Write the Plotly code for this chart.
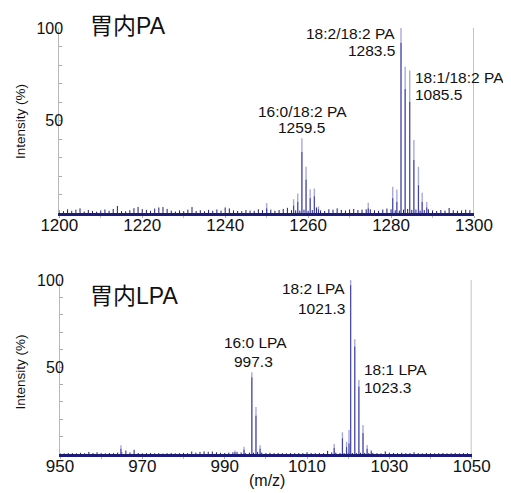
import plotly.graph_objects as go

# ---------------- data: upper panel (胃内PA) ----------------
pa_noise_start = 1200
pa_noise = [
    1.5, 1.0, 2.0, 1.2, 1.8, 2.5, 0.8, 1.6, 1.1, 0.7,
    1.4, 1.9, 1.2, 2.2, 3.8, 1.0, 0.9, 1.5, 2.6, 3.3,
    2.1, 1.7, 1.2, 2.4, 3.0, 3.2, 2.2, 1.3, 0.8, 1.4,
    1.0, 1.8, 3.2, 1.1, 1.5, 0.9, 1.7, 1.2, 1.9, 1.3,
    3.0, 2.5, 1.4, 1.1, 1.0, 1.6, 1.3, 1.2, 2.0, 1.5,
    2.0, 1.8, 1.2, 1.6, 2.2, 2.8, 1.5, 1.4, 1.3, 1.8,
    1.2, 1.6, 3.0, 1.4, 1.1, 2.0, 1.8, 2.5, 1.7, 1.3,
    1.9, 2.2, 1.6, 1.8, 2.0, 2.0, 1.4, 1.2, 1.9, 2.4,
    2.0, 1.5, 1.3, 1.8, 2.2, 1.7, 1.9, 1.3, 1.6, 2.0,
    1.4, 1.1, 1.6, 1.3, 2.7, 1.5, 1.2, 1.4, 1.8, 1.6,
    1.5,
]
pa_peak_mz = [1250.0, 1256.5, 1257.5, 1258.5, 1259.5, 1260.5, 1261.5, 1262.5,
              1274.5, 1280.4, 1281.4, 1282.4, 1283.4, 1284.5, 1285.5, 1286.6,
              1287.5, 1288.6]
pa_peak_light = [5.4, 7.5, 10.6, 40.4, 25.0, 12.8, 13.3, 3.5,
                 5.6, 14.2, 12.7, 100.0, 79.0, 77.0, 39.5, 25.0,
                 11.0, 6.0]
pa_peak_dark = [2.5, 4.0, 6.0, 33.0, 18.0, 8.0, 9.0, 2.0,
                2.5, 8.0, 6.0, 92.0, 67.0, 60.0, 28.6, 15.0,
                6.0, 3.0]
pa_xticks = [1200, 1220, 1240, 1260, 1280, 1300]

# ---------------- data: lower panel (胃内LPA) ----------------
lpa_noise_start = 950
lpa_noise = [
    0.5, 0.4, 0.6, 0.5, 0.4, 0.7, 0.5, 1.2, 0.6, 1.0,
    0.5, 0.4, 0.6, 0.5, 0.8, 1.0, 2.0, 0.9, 2.4, 0.6,
    0.4, 0.5, 0.6, 0.4, 0.5, 0.3, 0.5, 0.6, 0.4, 0.5,
    0.6, 0.5, 1.4, 0.8, 1.2, 1.5, 1.3, 1.4, 1.0, 0.7,
    0.6, 0.8, 1.0, 1.2, 0.9, 0.6, 0.8, 0.7, 1.2, 0.8,
    0.6, 0.7, 0.5, 0.6, 0.5, 0.4, 0.6, 0.5, 0.6, 0.5,
    1.0, 0.6, 0.5, 0.6, 0.5, 1.8, 0.9, 0.8, 0.6, 0.5,
    0.7, 0.6, 0.5, 0.7, 0.6, 0.5, 0.6, 0.5, 0.4, 1.5,
    0.8, 0.6, 0.5, 0.7, 0.5, 0.6, 1.0, 0.5, 0.4, 0.6,
    0.5, 0.4, 0.5, 0.6, 0.4, 0.5, 0.6, 0.4, 0.5, 0.5,
    0.4,
]
lpa_peak_mz = [964.8, 992.5, 994.7, 996.6, 997.6, 998.6, 1016.6, 1018.6,
               1019.6, 1020.2, 1020.6, 1021.6, 1022.6, 1023.6, 1024.6, 1025.6]
lpa_peak_light = [5.0, 2.0, 4.2, 47.0, 27.0, 5.0, 5.7, 12.5,
                  7.0, 13.8, 100.0, 66.0, 42.5, 16.7, 5.2, 2.3]
lpa_peak_dark = [3.0, 1.0, 2.5, 44.0, 22.0, 3.0, 3.5, 9.0,
                 4.0, 6.0, 97.0, 61.7, 38.7, 12.0, 3.0, 1.5]
lpa_xticks = [950, 970, 990, 1010, 1030, 1050]

y_tickvals = [10, 20, 30, 40, 50, 60, 70, 80, 90, 100]
y_ticktext = ["", "", "", "", "50", "", "", "", "", "100"]

LIGHT = "rgba(140,140,215,0.75)"
DARK = "#3c3ca4"
NAVY = "#1c1c78"
LAT = "Liberation Sans, Arial, Noto Sans CJK JP, sans-serif"
JP = "Liberation Sans, Noto Sans CJK JP, sans-serif"


def sticks(mz, h):
    xs, ys = [], []
    for m, v in zip(mz, h):
        xs += [m, m, None]
        ys += [0, v, None]
    return xs, ys


fig = go.Figure()

for noise, start, peaks, light, dark, xa, ya in [
    (pa_noise, pa_noise_start, pa_peak_mz, pa_peak_light, pa_peak_dark, "x", "y"),
    (lpa_noise, lpa_noise_start, lpa_peak_mz, lpa_peak_light, lpa_peak_dark, "x2", "y2"),
]:
    nmz = [start + i for i in range(len(noise))]
    nx, ny = sticks(nmz, noise)
    fig.add_trace(go.Scatter(x=nx, y=ny, mode="lines", line=dict(color=NAVY, width=1),
                             xaxis=xa, yaxis=ya, hoverinfo="skip"))
    lx, ly = sticks(peaks, light)
    fig.add_trace(go.Scatter(x=lx, y=ly, mode="lines", line=dict(color=LIGHT, width=1.4),
                             xaxis=xa, yaxis=ya))
    dx, dy = sticks(peaks, dark)
    fig.add_trace(go.Scatter(x=dx, y=dy, mode="lines", line=dict(color=DARK, width=1),
                             xaxis=xa, yaxis=ya))

# the page body adds an 8px margin, so the figure is drawn 8px in from the corner
OFF = 8
W, H = 511 - OFF, 493 - OFF


def px(x):
    return (x - OFF) / W


def py(y):
    return 1 - (y - OFF) / H


def xaxis(domain, rng, ticks, anchor):
    return dict(domain=domain, range=rng, anchor=anchor, tickmode="array", tickvals=ticks,
                ticks="outside", ticklen=2, tickcolor="#aaaaaa", showline=True,
                linecolor=NAVY, linewidth=2.5, showgrid=False, zeroline=False,
                automargin=False, ticklabelstandoff=-7,
                tickfont=dict(family=LAT, size=17, color="#111111"),
                minor=dict(ticks="outside", ticklen=2, tickcolor="#bbbbbb", dtick=10, tick0=rng[0]))


def yaxis(domain, anchor):
    return dict(domain=domain, range=[0, 100], anchor=anchor, tickmode="array",
                tickvals=y_tickvals, ticktext=y_ticktext, ticks="inside", ticklen=3,
                tickcolor="#aaaaaa", showline=True, linecolor="#b8b8b8", linewidth=1,
                showgrid=False, zeroline=False, automargin=False, ticklabelstandoff=-8,
                tickfont=dict(family=LAT, size=16, color="#111111"))


fig.update_layout(
    width=W, height=H, margin=dict(l=0, r=0, t=0, b=0, autoexpand=False),
    paper_bgcolor="white", plot_bgcolor="white", showlegend=False,
    xaxis=xaxis([px(59.3), px(474)], [1200, 1300], pa_xticks, "y"),
    yaxis=yaxis([py(213), py(28)], "x"),
    xaxis2=xaxis([px(60), px(471.7)], [950, 1050], lpa_xticks, "y2"),
    yaxis2=yaxis([py(454), py(280)], "x2"),
)

# right-hand gray frame lines
fig.add_shape(type="line", xref="x", yref="y", x0=1300, x1=1300, y0=0, y1=100,
              line=dict(color="#c4c4c4", width=2))
fig.add_shape(type="line", xref="x2", yref="y2", x0=1050, x1=1050, y0=0, y1=100,
              line=dict(color="#c4c4c4", width=2))


def ann(text, x, y, xref, yref, xanchor="center", size=15.5, family=LAT, **kw):
    fig.add_annotation(text=text, x=x, y=y, xref=xref, yref=yref, xanchor=xanchor,
                       yanchor="middle", showarrow=False,
                       font=dict(family=family, size=size, color="#111111"), **kw)


# titles (paper coordinates so they are never hidden)
ann("胃内PA", px(88), py(26), "paper", "paper", "left", size=23, family=JP)
ann("胃内LPA", px(88), py(296), "paper", "paper", "left", size=23, family=JP)

# upper labels
ann("18:2/18:2 PA", 1281.4, 96.8, "x", "y", "right")
ann("1283.5", 1281.4, 87.6, "x", "y", "right")
ann("18:1/18:2 PA", 1285.3, 73.5, "x", "y", "left")
ann("1085.5", 1285.3, 64.3, "x", "y", "left")
ann("16:0/18:2 PA", 1258.7, 55.1, "x", "y", "center")
ann("1259.5", 1258.4, 46.0, "x", "y", "center")

# lower labels
ann("18:2 LPA", 1019.7, 95.4, "x2", "y2", "right")
ann("1021.3", 1019.7, 83.9, "x2", "y2", "right")
ann("16:0 LPA", 997.6, 63.8, "x2", "y2", "center")
ann("997.3", 996.9, 53.4, "x2", "y2", "center")
ann("18:1 LPA", 1023.4, 48.3, "x2", "y2", "left")
ann("1023.3", 1023.4, 38.5, "x2", "y2", "left")

# axis titles
ann("Intensity (%)", px(20), py(122), "paper", "paper", "center", size=13.5, textangle=-90)
ann("Intensity (%)", px(20), py(372.5), "paper", "paper", "center", size=13.5, textangle=-90)
ann("(m/z)", px(267), py(480), "paper", "paper", "center", size=16)

fig.write_html("out.html")
